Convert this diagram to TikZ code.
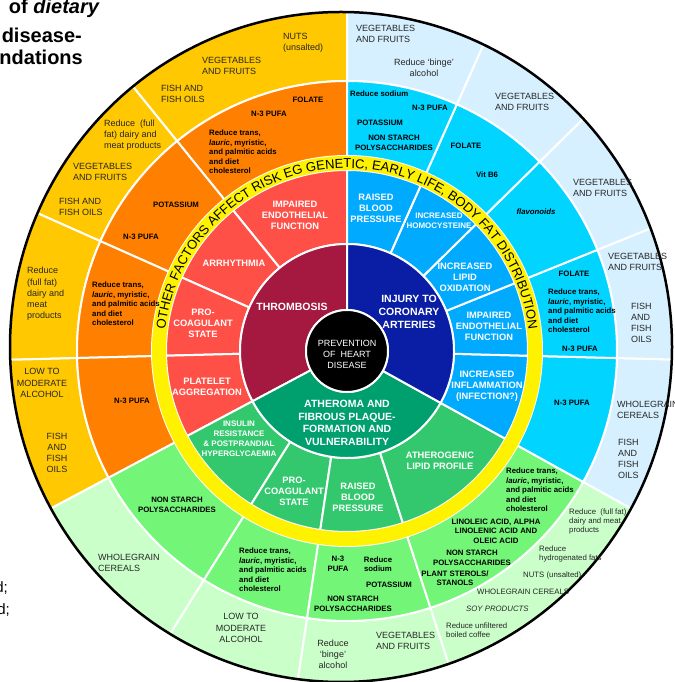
\documentclass[tikz,border=0pt]{standalone}
\usepackage{fontspec}
\setmainfont{Liberation Sans}
\usepackage{tikz}
\usetikzlibrary{calc}
\usetikzlibrary{decorations.text}

\definecolor{goldout}{RGB}{255,200,0}
\definecolor{orangemid}{RGB}{255,128,0}
\definecolor{redmech}{RGB}{255,80,72}
\definecolor{thrombred}{RGB}{165,25,65}
\definecolor{blueout}{RGB}{215,240,255}
\definecolor{cyanmid}{RGB}{0,212,255}
\definecolor{bluemech}{RGB}{0,170,255}
\definecolor{injuryblue}{RGB}{10,30,165}
\definecolor{greenout}{RGB}{202,255,202}
\definecolor{greenmid}{RGB}{115,245,120}
\definecolor{greenmech}{RGB}{52,200,110}
\definecolor{atherogreen}{RGB}{0,160,110}

\tikzstyle{outertext}=[font=\fontsize{9}{11.2}\selectfont, text=black!85, inner sep=0pt, align=left]
\tikzstyle{smallout}=[font=\fontsize{7.8}{9}\selectfont, text=black!85, inner sep=0pt, align=left]
\tikzstyle{foodtext}=[font=\bfseries\fontsize{7.8}{9.5}\selectfont, inner sep=0pt, align=left]
\tikzstyle{mechtext}=[font=\bfseries\fontsize{9.3}{11}\selectfont, text=white, inner sep=0pt, align=center]
\tikzstyle{smallmech}=[font=\bfseries\fontsize{8}{10}\selectfont, text=white, inner sep=0pt, align=center]
\tikzstyle{coretext}=[font=\bfseries\fontsize{10.5}{12.7}\selectfont, text=white, inner sep=0pt, align=center]
\tikzstyle{titletext}=[font=\bfseries\fontsize{20}{22}\selectfont, anchor=base east, inner sep=0pt]

% one piece of a ring: colour, inner radius, outer radius, start angle, end angle
\newcommand{\ringpart}[5]{%
  \filldraw[fill=#1, draw=white, line width=2pt]
    ($(C)+(#4:#3)$) arc[start angle=#4, end angle=#5, radius=#3]
    -- ($(C)+(#5:#2)$) arc[start angle=#5, end angle=#4, radius=#2] -- cycle;}

\begin{document}
\begin{tikzpicture}[x=1pt, y=1pt]

  \clip (0,0) rectangle (674,682);
  \coordinate (C) at (347,331);

  \def\rcore{41};
  \def\rinner{107};
  \def\rmech{181};
  \def\rband{195};
  \def\rfood{270};
  \def\rout{350};

%outer ring
  \begin{scope}
    \clip (341,335) ellipse [x radius=331, y radius=335];
    \foreach \a/\b in {90/129, 129/156, 156/181.5, 181.5/208}
      \ringpart{goldout}{\rfood}{\rout}{\a}{\b};
    \foreach \a/\b in {208/238, 238/261.5, 261.5/288, 288/331}
      \ringpart{greenout}{\rfood}{\rout}{\a}{\b};
    \foreach \a/\b in {-29/-1.5, -1.5/22, 22/44.5, 44.5/66, 66/90}
      \ringpart{blueout}{\rfood}{\rout}{\a}{\b};
  \end{scope}

%food ring
  \foreach \a/\b in {90/129, 129/156, 156/181.5, 181.5/208}
    \ringpart{orangemid}{\rband}{\rfood}{\a}{\b};
  \foreach \a/\b in {208/238, 238/261.5, 261.5/288, 288/331}
    \ringpart{greenmid}{\rband}{\rfood}{\a}{\b};
  \foreach \a/\b in {-29/-1.5, -1.5/22, 22/44.5, 44.5/66, 66/90}
    \ringpart{cyanmid}{\rband}{\rfood}{\a}{\b};

%mechanism ring
  \foreach \a/\b in {90/129, 129/156, 156/181.5, 181.5/208}
    \ringpart{redmech}{\rinner}{\rmech}{\a}{\b};
  \foreach \a/\b in {208/238, 238/261.5, 261.5/288, 288/331}
    \ringpart{greenmech}{\rinner}{\rmech}{\a}{\b};
  \foreach \a/\b in {-29/-1.5, -1.5/22, 22/44.5, 44.5/66, 66/90}
    \ringpart{bluemech}{\rinner}{\rmech}{\a}{\b};

%inner ring
  \ringpart{thrombred}{\rcore}{\rinner}{90}{208};
  \ringpart{atherogreen}{\rcore}{\rinner}{208}{331};
  \ringpart{injuryblue}{\rcore}{\rinner}{-29}{90};

%yellow band
  \fill[yellow, even odd rule] (C) circle[radius=\rband] (C) circle[radius=\rmech];
  \path[decorate, decoration={text along path, text align=center,
      text={|\fontsize{13}{13}\selectfont|OTHER FACTORS AFFECT RISK EG GENETIC, EARLY LIFE, BODY FAT DISTRIBUTION}}]
    ($(C)+(180:183)$) arc[start angle=180, end angle=0, radius=183];

%centre
  \filldraw[fill=black, draw=white, line width=2pt] (C) circle[radius=\rcore];
  \draw[black, line width=2.5pt] (341,335) ellipse [x radius=331, y radius=335];

% Labels inner ring
  \node[coretext] (thromb) at (292,375) {THROMBOSIS};
  \node[coretext] (injury) at (409,370) {INJURY TO\\CORONARY\\ARTERIES};
  \node[coretext] (athero) at (347,259) {ATHEROMA AND\\FIBROUS PLAQUE-\\FORMATION AND\\VULNERABILITY};
  \node[font=\fontsize{9}{11}\selectfont, text=white, align=center, inner sep=0pt] (prev) at (347,328) {PREVENTION\\OF~~HEART\\DISEASE};

% Labels mechanism ring
  \node[mechtext] (endoL) at (295,467) {IMPAIRED\\ENDOTHELIAL\\FUNCTION};
  \node[mechtext] (arrhy) at (234,419) {ARRHYTHMIA};
  \node[mechtext] (procoagL) at (203,359) {PRO-\\COAGULANT\\STATE};
  \node[mechtext] (platelet) at (207,295) {PLATELET\\AGGREGATION};
  \node[mechtext] (raisedbp) at (376,474) {RAISED\\BLOOD\\PRESSURE};
  \node[smallmech] (homocys) at (439,461) {INCREASED\\HOMOCYSTEINE};
  \node[mechtext] (lipidox) at (465,405) {INCREASED\\LIPID\\OXIDATION};
  \node[mechtext] (endoR) at (489,356) {IMPAIRED\\ENDOTHELIAL\\FUNCTION};
  \node[mechtext] (inflam) at (487,296) {INCREASED\\INFLAMMATION\\(INFECTION?)};
  \node[smallmech] (insulin) at (239,243) {INSULIN\\RESISTANCE\\\& POSTPRANDIAL\\HYPERGLYCAEMIA};
  \node[mechtext] (procoagG) at (294,191) {PRO-\\COAGULANT\\STATE};
  \node[mechtext] (raisedbpG) at (358,185) {RAISED\\BLOOD\\PRESSURE};
  \node[mechtext] (atherog) at (440,221) {ATHEROGENIC\\LIPID PROFILE};

% Labels food ring, left
  \node[foodtext] (folateA) at (308,582) {FOLATE};
  \node[foodtext] (pufaA) at (269,568) {N-3 PUFA};
  \node[foodtext, anchor=west] (transA) at (209,530) {Reduce trans,\\\textit{lauric}, myristic,\\and palmitic acids\\and diet\\cholesterol};
  \node[foodtext] (potasA) at (176,477) {POTASSIUM};
  \node[foodtext] (pufaB) at (141,445) {N-3 PUFA};
  \node[foodtext, anchor=west] (transB) at (92,378) {Reduce trans,\\\textit{lauric}, myristic,\\and palmitic acids\\and diet\\cholesterol};
  \node[foodtext] (pufaC) at (132,281) {N-3 PUFA};

% Labels food ring, right
  \node[foodtext, anchor=west] (sodiumA) at (350,588) {Reduce sodium};
  \node[foodtext] (pufaD) at (430,574) {N-3 PUFA};
  \node[foodtext] (potasB) at (380,559) {POTASSIUM};
  \node[foodtext, align=center] (nspA) at (394,539) {NON STARCH\\POLYSACCHARIDES};
  \node[foodtext] (folateB) at (466,536) {FOLATE};
  \node[foodtext] (vitb) at (487,507) {Vit B6};
  \node[foodtext] (flavo) at (536,470) {\textit{flavonoids}};
  \node[foodtext] (folateC) at (574,408) {FOLATE};
  \node[foodtext, anchor=west] (transC) at (548,371) {Reduce trans,\\\textit{lauric}, myristic,\\and palmitic acids\\and diet\\cholesterol};
  \node[foodtext] (pufaE) at (580,333) {N-3 PUFA};
  \node[foodtext] (pufaF) at (572,279) {N-3 PUFA};

% Labels food ring, bottom
  \node[foodtext, align=center] (nspB) at (177,177) {NON STARCH\\POLYSACCHARIDES};
  \node[foodtext, anchor=west] (transD) at (239,112) {Reduce trans,\\\textit{lauric}, myristic,\\and palmitic acids\\and diet\\cholesterol};
  \node[foodtext, align=center] (pufaG) at (338,118) {N-3\\PUFA};
  \node[foodtext, align=center] (sodiumB) at (378,118) {Reduce\\sodium};
  \node[foodtext] (potasC) at (389,97) {POTASSIUM};
  \node[foodtext, align=center] (nspC) at (353,78) {NON STARCH\\POLYSACCHARIDES};
  \node[foodtext, anchor=west] (transE) at (506,192) {Reduce trans,\\\textit{lauric}, myristic,\\and palmitic acids\\and diet\\cholesterol};
  \node[foodtext, align=center] (linol) at (496,151) {LINOLEIC ACID, ALPHA\\LINOLENIC ACID AND\\OLEIC ACID};
  \node[foodtext, align=center] (nspD) at (472,124) {NON STARCH\\POLYSACCHARIDES};
  \node[foodtext, align=center] (sterol) at (455,104) {PLANT STEROLS/\\STANOLS};

% Labels outer ring, left
  \node[outertext, anchor=west] (nutsA) at (283,639) {NUTS\\(unsalted)};
  \node[outertext, anchor=west] (vegA) at (202,616) {VEGETABLES\\AND FRUITS};
  \node[outertext, anchor=west] (fishA) at (161,588) {FISH AND\\FISH OILS};
  \node[outertext, anchor=west] (dairyA) at (104,547) {Reduce~~(full\\fat) dairy and\\meat products};
  \node[outertext, anchor=west] (vegB) at (73,510) {VEGETABLES\\AND FRUITS};
  \node[outertext, anchor=west] (fishB) at (59,475) {FISH AND\\FISH OILS};
  \node[outertext, anchor=west] (dairyB) at (27,388) {Reduce\\(full fat)\\dairy and\\meat\\products};
  \node[outertext, align=center] (alcA) at (42,299) {LOW TO\\MODERATE\\ALCOHOL};
  \node[outertext, align=center] (fishC) at (57,229) {FISH\\AND\\FISH\\OILS};

% Labels outer ring, right
  \node[outertext, anchor=west] (vegC) at (356,648) {VEGETABLES\\AND FRUITS};
  \node[outertext, align=center] (bingeA) at (424,614) {Reduce `binge'\\alcohol};
  \node[outertext, anchor=west] (vegD) at (495,580) {VEGETABLES\\AND FRUITS};
  \node[outertext, anchor=west] (vegE) at (573,494) {VEGETABLES\\AND FRUITS};
  \node[outertext, anchor=west] (vegF) at (608,420) {VEGETABLES\\AND FRUITS};
  \node[outertext, anchor=west] (fishD) at (631,359) {FISH\\AND\\FISH\\OILS};
  \node[outertext, anchor=west] (wholeA) at (617,272) {WHOLEGRAIN\\CEREALS};
  \node[outertext, anchor=west] (fishE) at (618,223) {FISH\\AND\\FISH\\OILS};

% Labels outer ring, bottom
  \node[outertext, anchor=west] (wholeB) at (98,119) {WHOLEGRAIN\\CEREALS};
  \node[outertext, align=center] (alcB) at (241,54) {LOW TO\\MODERATE\\ALCOHOL};
  \node[outertext, align=center] (bingeB) at (333,28) {Reduce\\`binge'\\alcohol};
  \node[outertext, anchor=west] (vegG) at (376,41) {VEGETABLES\\AND FRUITS};
  \node[smallout, anchor=west] (dairyC) at (569,161) {Reduce~~(full fat)\\dairy and meat\\products};
  \node[smallout, anchor=west] (hydro) at (539,128) {Reduce\\hydrogenated fats};
  \node[smallout, anchor=west] (nutsB) at (523,107) {NUTS (unsalted)};
  \node[smallout, anchor=west] (wholeC) at (477,90) {WHOLEGRAIN CEREALS};
  \node[smallout, anchor=west] (soy) at (466,73) {\textit{SOY PRODUCTS}};
  \node[smallout, anchor=west] (coffee) at (446,52) {Reduce unfiltered\\boiled coffee};

% Title and legend pieces
  \node[titletext] (titleA) at (100,668) {of \textit{dietary}};
  \node[titletext] (titleB) at (82,639) {disease-};
  \node[titletext] (titleC) at (83,617) {ndations};
  \node[font=\fontsize{15}{15}\selectfont, anchor=base east, inner sep=0pt] (legendA) at (8,89) {d;};
  \node[font=\fontsize{15}{15}\selectfont, anchor=base east, inner sep=0pt] (legendB) at (10,67) {d;};

\end{tikzpicture}
\end{document}
